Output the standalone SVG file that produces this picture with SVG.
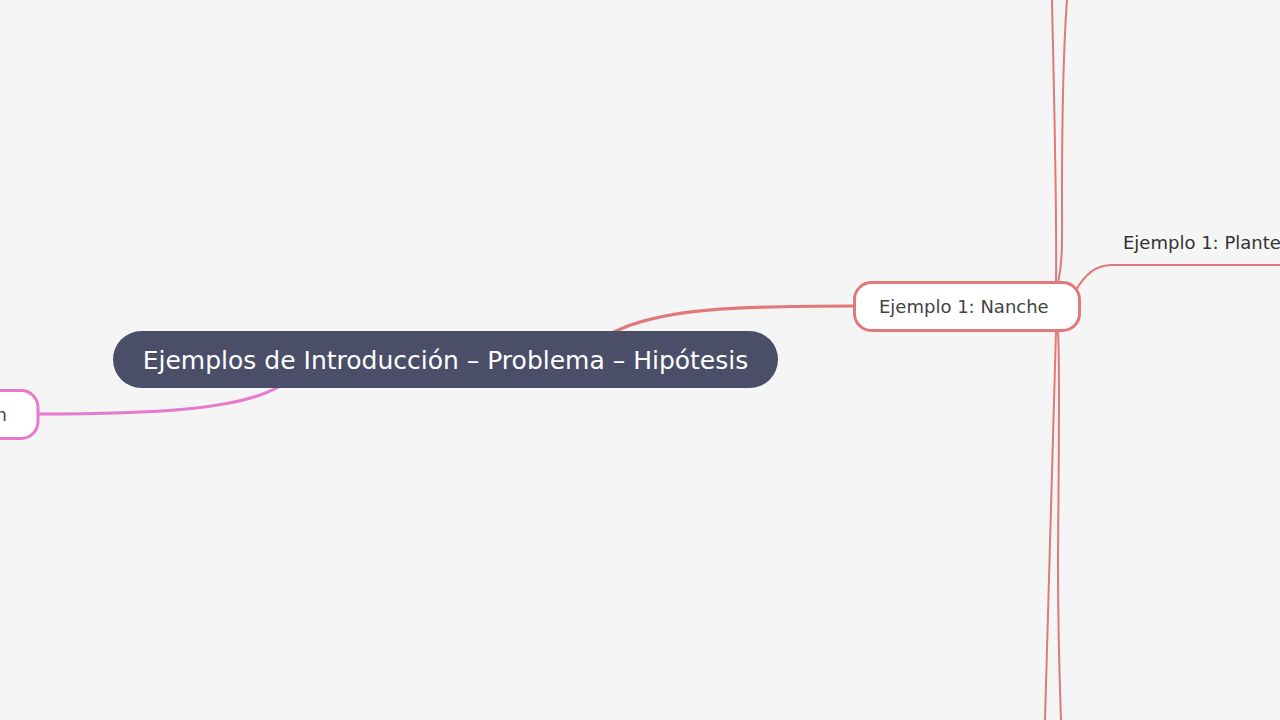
<svg xmlns="http://www.w3.org/2000/svg" width="1280" height="720" viewBox="0 0 1280 720">
<style>
.bg{fill:#f5f5f5}
.conn{fill:none;stroke-linecap:round}
.red{stroke:#e07a7a}
.pink{stroke:#e879d0}
.main{stroke-width:3.2}
.sub{stroke-width:2}
.t{font-family:"DejaVu Sans",sans-serif}
</style>
<rect class="bg" x="0" y="0" width="1280" height="720"/>
<g id="connectors">
  <path class="conn red main" d="M 612 333 C 660 308, 740 306, 854 306"/>
  <path class="conn pink main" d="M 280 386 C 240 410, 150 414, 38 414"/>
  <path class="conn red sub" d="M 1056 283 C 1057 200, 1054 100, 1052 0"/>
  <path class="conn red sub" d="M 1058 283 C 1063 260, 1062 240, 1062 200 C 1062 100, 1064 40, 1067 0"/>
  <path class="conn red sub" d="M 1056 331 C 1055 400, 1050 560, 1045 720"/>
  <path class="conn red sub" d="M 1058 331 C 1060 360, 1059 420, 1058 560 C 1058 640, 1060 690, 1061 720"/>
  <path class="conn red sub" d="M 1076 290 C 1085 275, 1095 265, 1112 265 L 1282 265"/>
</g>
<g id="node-central">
  <rect x="113" y="331" width="665" height="57" rx="28.5" fill="#4a4e69"/>
  <text class="t" x="445.5" y="368.5" font-size="25" fill="#ffffff" text-anchor="middle">Ejemplos de Introducción – Problema – Hipótesis</text>
</g>
<g id="node-nanche">
  <rect x="854.5" y="282.5" width="225" height="48" rx="17" fill="#ffffff" stroke="#e07a7a" stroke-width="3"/>
  <text class="t" x="879" y="313" font-size="18" fill="#444444">Ejemplo 1: Nanche</text>
</g>
<g id="node-left">
  <rect x="-200" y="390.5" width="238" height="48" rx="17" fill="#ffffff" stroke="#e879d0" stroke-width="3"/>
  <text class="t" x="7" y="421" font-size="18" fill="#444444" text-anchor="end">n</text>
</g>
<g id="node-plante">
  <text class="t" x="1123" y="249" font-size="18" fill="#333333">Ejemplo 1: Plante</text>
</g>
</svg>
